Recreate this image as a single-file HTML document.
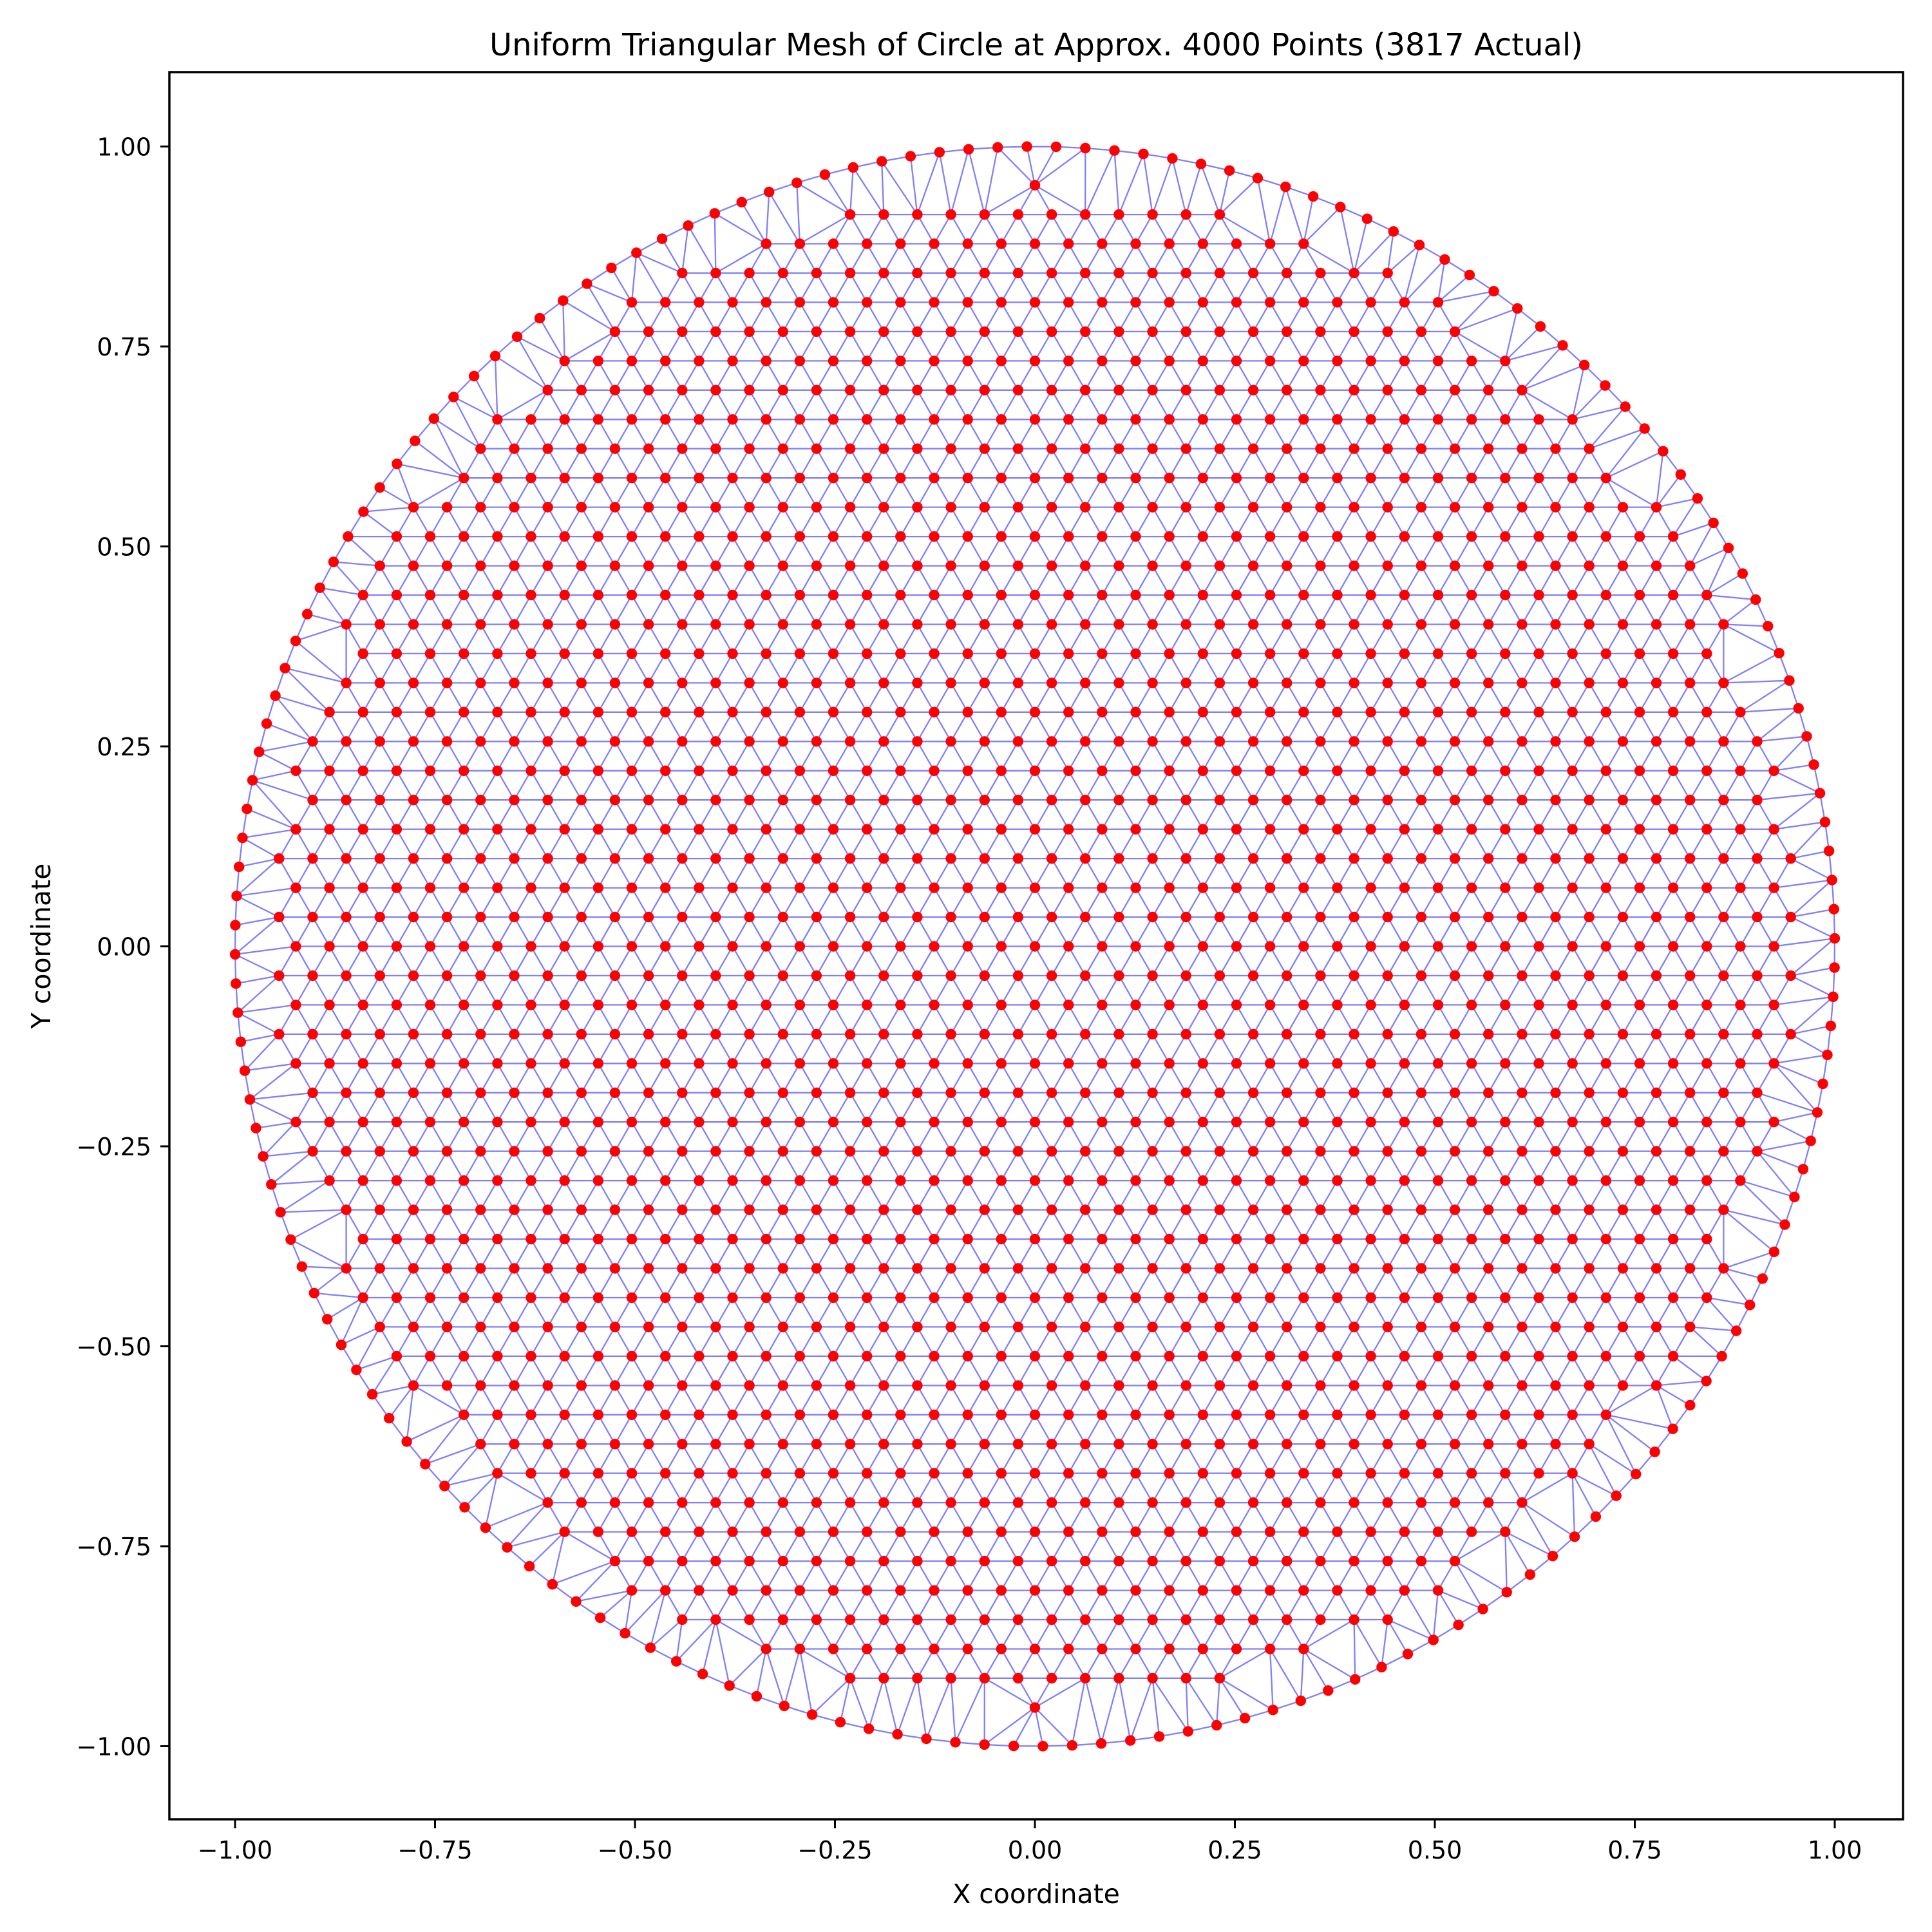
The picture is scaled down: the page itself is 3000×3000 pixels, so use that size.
<!DOCTYPE html>
<html><head><meta charset="utf-8"><style>
html,body{margin:0;padding:0;background:#fff}
svg{display:block}
text{font-family:"DejaVu Sans","Liberation Sans",sans-serif;fill:#000}
</style></head><body>
<svg id="chart" width="3000" height="3000" viewBox="0 0 3000 3000">
<rect x="0" y="0" width="3000" height="3000" fill="#fff"/>
<g id="mesh"></g>
<g id="pts"></g>
<rect x="263" y="112" width="2692" height="2713" fill="none" stroke="#000" stroke-width="3.5"/>
<g id="ticks"></g>
<text x="1609" y="86" font-size="48" text-anchor="middle">Uniform Triangular Mesh of Circle at Approx. 4000 Points (3817 Actual)</text>
<text x="1609" y="2955" font-size="41" text-anchor="middle">X coordinate</text>
<text x="0" y="0" font-size="41" text-anchor="middle" transform="translate(78,1469) rotate(-90)">Y coordinate</text>
</svg>
<script>
const xTicks=[-1,-0.75,-0.5,-0.25,0,0.25,0.5,0.75,1];
const yTicks=[-1,-0.75,-0.5,-0.25,0,0.25,0.5,0.75,1];
const gridSpacing=[0.042];
const rowSpacing=[0.0366];
const interiorCutoff=[0.952];
const boundaryCount=[172];
const radius=[1.0];

const NS="http://www.w3.org/2000/svg";
function X(v){return 1607+v*1242;}
function Y(v){return 1469.5-v*1242;}
function fmt(v){return (v<0?"\u2212":"")+Math.abs(v).toFixed(2);}

const tg=document.getElementById('ticks');
xTicks.forEach(v=>{
  const l=document.createElementNS(NS,'line');
  l.setAttribute('x1',X(v));l.setAttribute('x2',X(v));l.setAttribute('y1',2825);l.setAttribute('y2',2839);
  l.setAttribute('stroke','#000');l.setAttribute('stroke-width','3');
  
  
  tg.appendChild(l);
  const t=document.createElementNS(NS,'text');
  t.setAttribute('x',X(v));t.setAttribute('y',2886);t.setAttribute('font-size','38');t.setAttribute('text-anchor','middle');
  t.textContent=fmt(v);
  
  
  tg.appendChild(t);
});
yTicks.forEach(v=>{
  const l=document.createElementNS(NS,'line');
  l.setAttribute('x1',249);l.setAttribute('x2',263);l.setAttribute('y1',Y(v));l.setAttribute('y2',Y(v));
  l.setAttribute('stroke','#000');l.setAttribute('stroke-width','3');
  
  
  tg.appendChild(l);
  const t=document.createElementNS(NS,'text');
  t.setAttribute('x',235);t.setAttribute('y',Y(v)+14);t.setAttribute('font-size','38');t.setAttribute('text-anchor','end');
  t.textContent=fmt(v);
  
  
  tg.appendChild(t);
});

const P=[];
const dx=gridSpacing[0],dy=rowSpacing[0],R=radius[0];
const nr=Math.ceil(R/dy)+1;
for(let k=-nr;k<=nr;k++){
  const y=k*dy;
  const off=(Math.abs(k)%2===0)?0:dx/2;
  for(let i=-40;i<=40;i++){
    const x=i*dx+off;
    if(Math.hypot(x,y)<interiorCutoff[0]*R)P.push([x,y]);
  }
}
const nb=boundaryCount[0];
for(let j=0;j<nb;j++){
  const a=2*Math.PI*j/nb+0.01;
  P.push([R*Math.cos(a),R*Math.sin(a)]);
}

function circ(a,b,c){
  const ax=a[0],ay=a[1],bx=b[0],by=b[1],cx=c[0],cy=c[1];
  const d=2*(ax*(by-cy)+bx*(cy-ay)+cx*(ay-by));
  const ux=((ax*ax+ay*ay)*(by-cy)+(bx*bx+by*by)*(cy-ay)+(cx*cx+cy*cy)*(ay-by))/d;
  const uy=((ax*ax+ay*ay)*(cx-bx)+(bx*bx+by*by)*(ax-cx)+(cx*cx+cy*cy)*(bx-ax))/d;
  return [ux,uy,(ax-ux)*(ax-ux)+(ay-uy)*(ay-uy)];
}
const pts=P.slice();
const n=pts.length;
pts.push([-100,-100],[100,-100],[0,100]);
let tris=[];
function mk(a,b,c){const cc=circ(pts[a],pts[b],pts[c]);return {a,b,c,cx:cc[0],cy:cc[1],r2:cc[2]};}
tris.push(mk(n,n+1,n+2));
for(let i=0;i<n;i++){
  const p=pts[i];
  const bad=[],keep=[];
  for(const t of tris){
    const ddx=p[0]-t.cx,ddy=p[1]-t.cy;
    if(ddx*ddx+ddy*ddy<t.r2-1e-12)bad.push(t);else keep.push(t);
  }
  const ec=new Map();
  for(const t of bad){
    for(const e of [[t.a,t.b],[t.b,t.c],[t.c,t.a]]){
      const k=e[0]<e[1]?e[0]+','+e[1]:e[1]+','+e[0];
      ec.set(k,(ec.get(k)||{e,c:0}));ec.get(k).c++;
    }
  }
  for(const [k,v] of ec){ if(v.c===1) keep.push(mk(v.e[0],v.e[1],i)); }
  tris=keep;
}
const edges=new Set();
let d="";
for(const t of tris){
  if(t.a>=n||t.b>=n||t.c>=n)continue;
  for(const e of [[t.a,t.b],[t.b,t.c],[t.c,t.a]]){
    const k=e[0]<e[1]?e[0]+','+e[1]:e[1]+','+e[0];
    if(edges.has(k))continue;edges.add(k);
    const p=pts[e[0]],q=pts[e[1]];
    d+="M"+X(p[0]).toFixed(1)+" "+Y(p[1]).toFixed(1)+"L"+X(q[0]).toFixed(1)+" "+Y(q[1]).toFixed(1);
  }
}
const path=document.createElementNS(NS,'path');
path.setAttribute('d',d);path.setAttribute('stroke','#0000ff');path.setAttribute('stroke-opacity','0.5');
path.setAttribute('stroke-width','2.3');path.setAttribute('fill','none');


document.getElementById('mesh').appendChild(path);

const pg=document.getElementById('pts');
for(let i=0;i<n;i++){
  const c=document.createElementNS(NS,'circle');
  c.setAttribute('cx',X(P[i][0]).toFixed(1));c.setAttribute('cy',Y(P[i][1]).toFixed(1));
  c.setAttribute('r','8.2');c.setAttribute('fill','#ff0000');
  
  
  pg.appendChild(c);
}
</script>
</body></html>
